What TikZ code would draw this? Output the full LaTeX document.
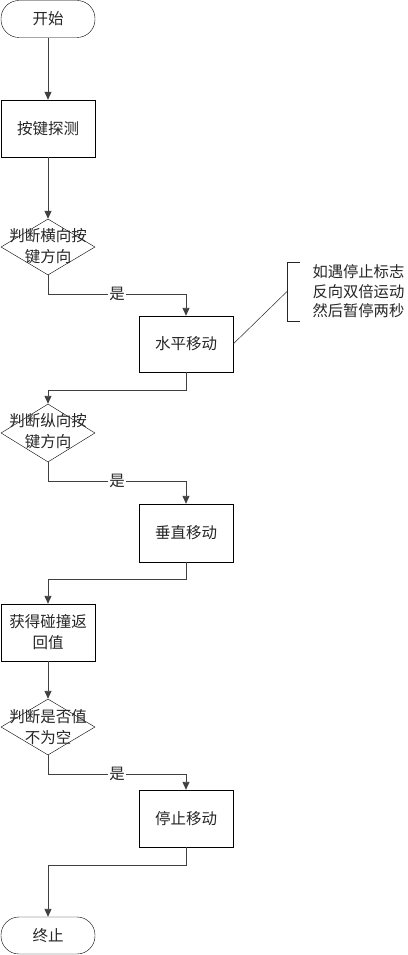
\documentclass[tikz,border=0pt]{standalone}
\usepackage{fontspec}
\newfontfamily\cjk{Noto Sans CJK SC}
\usetikzlibrary{shapes.geometric,arrows.meta}
\begin{document}
\begin{tikzpicture}[x=1pt,y=-1pt,
 txt/.style={font=\cjk\fontsize{15.5}{21}\selectfont, text=black!85, align=center},
 term/.style={txt, draw, rounded corners=18pt, minimum width=94pt, minimum height=37pt, inner sep=0pt},
 proc/.style={txt, draw, minimum width=94pt, minimum height=57pt, inner sep=0pt},
 dec/.style={draw, diamond, minimum width=94pt, minimum height=56pt, inner sep=0pt},
 conn/.style={draw=black!75, line width=0.9pt, -{Triangle[length=8pt,width=7pt]}},
 yes/.style={txt, fill=white, inner sep=1pt},
 note/.style={draw=black!85, line width=0.7pt}]
\useasboundingbox (0,0) rectangle (407,955);
% nodes
\node[term] (start) at (48,19) {开始};
\node[proc] (p1) at (48,128.5) {按键探测};
\node[dec] (d1) at (48,247) {};
\node[txt] (d1t) at (48,246.5) {判断横向按\\键方向};
\node[proc, minimum height=56pt] (p2) at (186,344) {水平移动};
\node[dec, minimum height=58pt] (d2) at (48,433) {};
\node[txt] (d2t) at (48,431) {判断纵向按\\键方向};
\node[proc, minimum height=58pt] (p3) at (186,533) {垂直移动};
\node[proc] (p4) at (48,632.5) {获得碰撞返\\回值};
\node[dec] (d3) at (48,727) {};
\node[txt] (d3t) at (48,727) {判断是否值\\不为空};
\node[proc] (p5) at (186,818.5) {停止移动};
\node[term] (end) at (48,935.5) {终止};
% connectors
\draw[conn] (start) -- (p1);
\draw[conn] (p1) -- (d1);
\draw[conn] (d1.south) -- ++(0,19) -| node[yes, pos=0.25] {是} (p2.north);
\draw[conn] (p2.south) -- ++(0,18) -| (d2.north);
\draw[conn] (d2.south) -- ++(0,19) -| node[yes, pos=0.25] {是} (p3.north);
\draw[conn] (p3.south) -- ++(0,17) -| (p4.north);
\draw[conn] (p4) -- (d3);
\draw[conn] (d3.south) -- ++(0,19) -| node[yes, pos=0.25] {是} (p5.north);
\draw[conn] (p5.south) -- ++(0,18) -| (end.north);
% annotation
\coordinate (bt) at (300,262);
\coordinate (bb) at (300,321);
\coordinate (bm) at (287,291.5);
\draw[note] (bt) -- (bt -| bm) -- (bb -| bm) -- (bb);
\draw[note, line width=0.5pt] (p2.east) -- (bm);
\node[txt, anchor=west, align=left, font=\cjk\fontsize{15.3}{19.5}\selectfont] (ann) at (309,291.5) {如遇停止标志\\反向双倍运动\\然后暂停两秒};
\end{tikzpicture}
\end{document}
